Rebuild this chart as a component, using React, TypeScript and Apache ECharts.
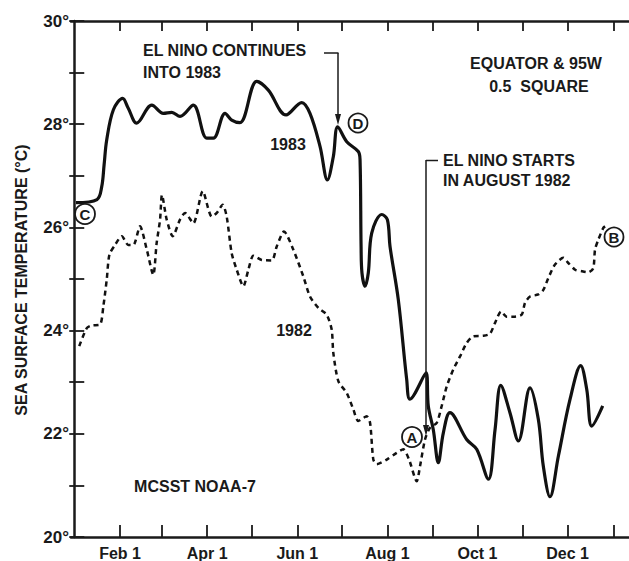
import React, { useEffect, useRef } from "react";
import * as echarts from "echarts";

// x values are day-of-year (0 = Jan 1)
const days1983 = [1.2, 15.4, 18.6, 20.2, 22, 26.5, 32.8, 36.4, 42.3, 52.5, 60.3, 66, 71.6, 80.6, 89.7, 94.2, 102.1, 106.6, 112.2, 123.6, 131.4, 143.4, 154, 159.6, 166.4, 171.4, 175.4, 178.4, 184.5, 192.3, 193.5, 194.2, 194.8, 196.9, 199.1, 201.4, 208.2, 212, 213.8, 219.4, 225.1, 227.3, 238.2, 239.7, 243.1, 246.5, 249.9, 254.4, 265.7, 272.5, 280.4, 284.9, 288.8, 295, 300.7, 308.6, 314.2, 317.6, 322.1, 327.8, 335.7, 342.9, 347, 350.4, 357.8];
const temps1983 = [26.48, 26.54, 26.79, 27.21, 27.7, 28.28, 28.5, 28.32, 28.02, 28.37, 28.21, 28.23, 28.15, 28.37, 27.73, 27.73, 28.21, 28.08, 28.03, 28.83, 28.66, 28.18, 28.42, 28.21, 27.57, 26.92, 27.37, 27.95, 27.66, 27.47, 27.31, 25.63, 25.12, 24.86, 25.12, 25.89, 26.25, 26.15, 25.63, 24.6, 23.05, 22.67, 23.18, 22.54, 22.08, 21.44, 22.02, 22.41, 21.89, 21.7, 21.12, 22.08, 22.94, 22.41, 21.86, 22.89, 22.28, 21.37, 20.78, 21.57, 22.67, 23.32, 22.86, 22.15, 22.54];

const days1982 = [3.4, 8.5, 11.8, 17.5, 19.7, 22, 23.8, 27.6, 32.2, 36.6, 40, 44.5, 49.1, 53.5, 55.8, 58.1, 59.4, 62.6, 66.7, 71.6, 75, 80.6, 87, 93.1, 96.5, 100.5, 103.2, 106.6, 110, 114.5, 117.9, 121.3, 126.9, 133.7, 137.1, 142, 148.3, 155.1, 159.6, 165.3, 170.9, 174.3, 175.4, 178.8, 184.5, 189, 192.3, 198, 200.3, 202.5, 204.8, 211.6, 218.3, 222.8, 226.7, 231.9, 234.1, 237.5, 240.9, 245.4, 248.8, 252.2, 256.7, 261.2, 265.7, 270.2, 277, 281.5, 284.9, 289, 292.8, 298.4, 303, 305.2, 308.6, 314.2, 317.6, 321, 325.5, 331.1, 334.5, 339.1, 343.6, 348.1, 351.4, 352.6, 354.8, 358.2, 359.4];
const temps1982 = [23.7, 24.05, 24.1, 24.12, 24.47, 24.99, 25.47, 25.66, 25.83, 25.66, 25.66, 26.02, 25.57, 25.08, 25.7, 26.15, 26.63, 26.15, 25.83, 26.15, 26.28, 26.08, 26.7, 26.21, 26.28, 26.44, 26.21, 25.5, 25.18, 24.86, 25.18, 25.45, 25.37, 25.36, 25.63, 25.92, 25.57, 25.05, 24.66, 24.44, 24.31, 24.02, 23.57, 23.02, 22.79, 22.47, 22.25, 22.34, 22.21, 21.5, 21.41, 21.5, 21.63, 21.7, 21.5, 21.08, 21.37, 21.89, 22.12, 22.21, 22.54, 22.92, 23.25, 23.5, 23.76, 23.89, 23.9, 23.94, 24.15, 24.37, 24.27, 24.27, 24.31, 24.54, 24.66, 24.7, 24.79, 25.02, 25.28, 25.41, 25.31, 25.18, 25.15, 25.13, 25.21, 25.57, 25.76, 25.99, 26.02];

const monthTickDays = [31, 59, 90, 120, 151, 181, 212, 243, 273, 304, 334, 365];
const labelDays = [31, 90, 151, 212, 273, 334];
const labelTexts = ["Feb 1", "Apr 1", "Jun 1", "Aug 1", "Oct 1", "Dec 1"];

const FONT = '"Liberation Sans", Arial, Helvetica, sans-serif';
const INK = "#1a1a1a";

function zip(xs: number[], ys: number[]) {
  return xs.map((x, i) => [x, ys[i]]);
}

function txt(text: string, x: number, y: number, align = "left", size = 16, rotation = 0) {
  return {
    type: "text",
    x,
    y,
    rotation,
    z: 100,
    style: {
      text,
      fill: INK,
      font: `bold ${size}px ${FONT}`,
      textAlign: align,
      textVerticalAlign: "middle",
    },
  };
}

function seg(x1: number, y1: number, x2: number, y2: number, w = 1.5) {
  return {
    type: "line",
    z: 100,
    shape: { x1, y1, x2, y2 },
    style: { stroke: INK, lineWidth: w },
  };
}

function arrowHead(x: number, tipY: number) {
  return {
    type: "polygon",
    z: 100,
    shape: { points: [[x - 3, tipY - 11], [x + 3, tipY - 11], [x, tipY]] },
    style: { fill: INK },
  };
}

function circ(letter: string, cx: number, cy: number, r = 9.5) {
  return [
    {
      type: "circle",
      z: 100,
      shape: { cx, cy, r },
      style: { fill: "#fff", stroke: INK, lineWidth: 1.8 },
    },
    {
      type: "text",
      x: cx,
      y: cy + 0.5,
      z: 101,
      style: {
        text: letter,
        fill: INK,
        font: `bold 15px ${FONT}`,
        textAlign: "center",
        textVerticalAlign: "middle",
      },
    },
  ];
}

export default function App() {
  const ref = useRef<HTMLDivElement>(null);
  useEffect(() => {
    if (!ref.current) return;
    const chart = echarts.init(ref.current, null, { renderer: "svg" });
    const labelMap: Record<number, string> = {};
    labelDays.forEach((d, i) => (labelMap[d] = labelTexts[i]));
    const xmin = -2.2;
    const xmax = 375.6;
    chart.setOption({
      animation: false,
      backgroundColor: "#fff",
      grid: { left: 71, top: 21, right: 0, bottom: 23, containLabel: false },
      xAxis: [
        {
          type: "value",
          min: xmin,
          max: xmax,
          position: "bottom",
          splitLine: { show: false },
          axisLine: { show: true, lineStyle: { color: INK, width: 2.5 } },
          axisTick: {
            show: true,
            inside: true,
            length: 12,
            customValues: monthTickDays,
            lineStyle: { color: INK, width: 1.8 },
          },
          axisLabel: {
            show: true,
            customValues: labelDays,
            formatter: (v: number) => labelMap[v] ?? "",
            color: INK,
            fontFamily: FONT,
            fontWeight: "bold",
            fontSize: 16,
            margin: 8,
          },
        },
        {
          type: "value",
          min: xmin,
          max: xmax,
          position: "top",
          splitLine: { show: false },
          axisLine: { show: true, lineStyle: { color: INK, width: 2.5 } },
          axisTick: {
            show: true,
            inside: true,
            length: 10,
            customValues: monthTickDays,
            lineStyle: { color: INK, width: 1.8 },
          },
          axisLabel: { show: false },
        },
      ],
      yAxis: [
        {
          type: "value",
          min: 20,
          max: 30,
          interval: 1,
          position: "left",
          splitLine: { show: false },
          axisLine: { show: true, lineStyle: { color: INK, width: 2.5 } },
          axisTick: {
            show: true,
            inside: true,
            length: 10,
            lineStyle: { color: INK, width: 1.8 },
          },
          axisLabel: {
            formatter: (v: number) => (v % 2 === 0 ? `${v}°` : ""),
            margin: 2,
            color: INK,
            fontFamily: FONT,
            fontWeight: "bold",
            fontSize: 17,
          },
        },
        {
          type: "value",
          min: 20,
          max: 30,
          interval: 1,
          position: "right",
          splitLine: { show: false },
          axisLine: { show: false },
          axisTick: {
            show: true,
            inside: true,
            length: 5,
            lineStyle: { color: INK, width: 1.8 },
          },
          axisLabel: { show: false },
        },
      ],
      series: [
        {
          name: "1983",
          type: "line",
          xAxisIndex: 0,
          yAxisIndex: 0,
          data: zip(days1983, temps1983),
          showSymbol: false,
          symbol: "none",
          smooth: 0.35,
          lineStyle: { color: "#111", width: 3.2 },
          z: 3,
        },
        {
          name: "1982",
          type: "line",
          xAxisIndex: 0,
          yAxisIndex: 0,
          data: zip(days1982, temps1982),
          showSymbol: false,
          symbol: "none",
          smooth: 0.25,
          lineStyle: { color: "#111", width: 2.5, type: [5, 4] },
          z: 2,
        },
      ],
      graphic: [
        txt("SEA SURFACE TEMPERATURE (°C)", 21, 280, "center", 16, Math.PI / 2),
        txt("EL NINO CONTINUES", 143, 50),
        txt("INTO 1983", 143, 72),
        seg(324, 53, 338.5, 53),
        seg(338, 53, 338, 116),
        arrowHead(338, 125),
        txt("EQUATOR & 95W", 536, 63, "center"),
        txt("0.5  SQUARE", 539, 86, "center"),
        txt("EL NINO STARTS", 443, 160.5),
        txt("IN AUGUST 1982", 443, 180.5),
        seg(438, 160.5, 426, 160.5),
        seg(426, 160, 426, 428),
        arrowHead(426, 436),
        txt("1983", 288, 144, "center"),
        txt("1982", 294, 330, "center"),
        txt("MCSST NOAA-7", 195, 486, "center"),
        ...circ("C", 85, 214, 10),
        ...circ("D", 358, 123),
        ...circ("A", 412, 437, 10),
        ...circ("B", 614, 237),
      ],
    });
    return () => chart.dispose();
  }, []);
  return (
    <div
      style={{ position: "fixed", left: 0, top: 0, width: 629, height: 561, overflow: "hidden", background: "#fff" }}
    >
      <div ref={ref} style={{ width: 629, height: 561 }} />
    </div>
  );
}
